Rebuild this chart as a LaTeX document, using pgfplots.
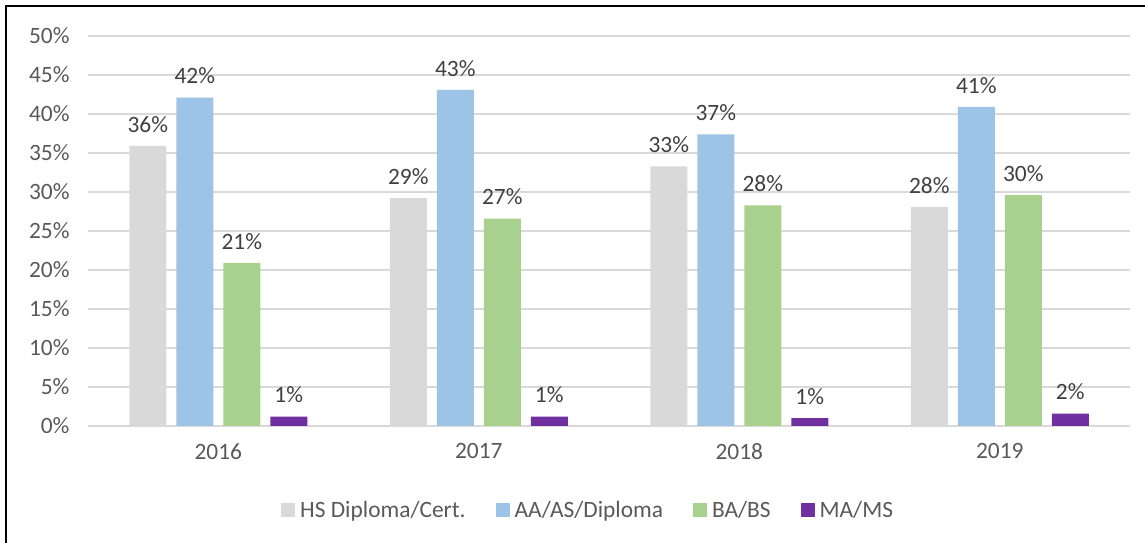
\documentclass[border=0pt]{standalone}
\usepackage{fontspec}
\setmainfont{Carlito}
\usepackage{pgfplots}
\pgfplotsset{compat=1.18}
\definecolor{cHS}{HTML}{D9D9D9}
\definecolor{cAA}{HTML}{9DC3E6}
\definecolor{cBA}{HTML}{A9D18E}
\definecolor{cMA}{HTML}{7030A0}
\definecolor{cGrid}{HTML}{D9D9D9}
\definecolor{cTick}{HTML}{595959}
\definecolor{cLab}{HTML}{404040}
\begin{document}
\begin{tikzpicture}[x=1bp,y=1bp]
\useasboundingbox (0,0) rectangle (1145,543);
\begin{axis}[
  at={(88bp,117bp)}, anchor=south west,
  scale only axis, width=1042bp, height=390bp,
  xmin=-0.5, xmax=3.5, ymin=0, ymax=50,
  ybar=10bp, bar width=37bp,
  axis line style={draw=none},
  major tick length=0pt,
  ymajorgrids, grid style={cGrid, line width=1.5bp},
  xtick={0,1,2,3}, xticklabels={2016,2017,2018,2019},
  ytick={0,5,10,15,20,25,30,35,40,45,50},
  yticklabels={0\%,5\%,10\%,15\%,20\%,25\%,30\%,35\%,40\%,45\%,50\%},
  /pgf/number format/assume math mode=true,
  ticklabel style={font=\fontsize{23.5}{27}\selectfont, text=cTick},
  xticklabel style={yshift=-14bp},
  yticklabel style={xshift=-15bp},
  point meta=explicit symbolic,
  nodes near coords,
  every node near coord/.append style={font=\fontsize{23.5}{27}\selectfont, text=cLab, yshift=10bp},
  legend columns=4,
  legend style={at={(0.479,-0.215)}, anchor=center, draw=none, fill=none,
    font=\fontsize{23.5}{27}\selectfont, text=cTick,
    nodes={inner sep=0pt},
    /tikz/every odd column/.append style={column sep=5bp},
    /tikz/every even column/.append style={column sep=30bp}},
  legend image code/.code={\fill[#1] (0bp,-7bp) rectangle (14bp,7bp);},
]
\addplot[fill=cHS, draw=none] coordinates {(0,35.9) [36\%] (1,29.2) [29\%] (2,33.3) [33\%] (3,28.1) [28\%]};
\addplot[fill=cAA, draw=none] coordinates {(0,42.1) [42\%] (1,43.1) [43\%] (2,37.4) [37\%] (3,40.9) [41\%]};
\addplot[fill=cBA, draw=none] coordinates {(0,20.9) [21\%] (1,26.6) [27\%] (2,28.3) [28\%] (3,29.6) [30\%]};
\addplot[fill=cMA, draw=none] coordinates {(0,1.2) [1\%] (1,1.2) [1\%] (2,1.0) [1\%] (3,1.6) [2\%]};
\legend{HS Diploma/Cert., AA/AS/Diploma, BA/BS, MA/MS}
\end{axis}
\draw[line width=2.5bp] (6,-10) -- (6,537) -- (1160,537);
\end{tikzpicture}
\end{document}
